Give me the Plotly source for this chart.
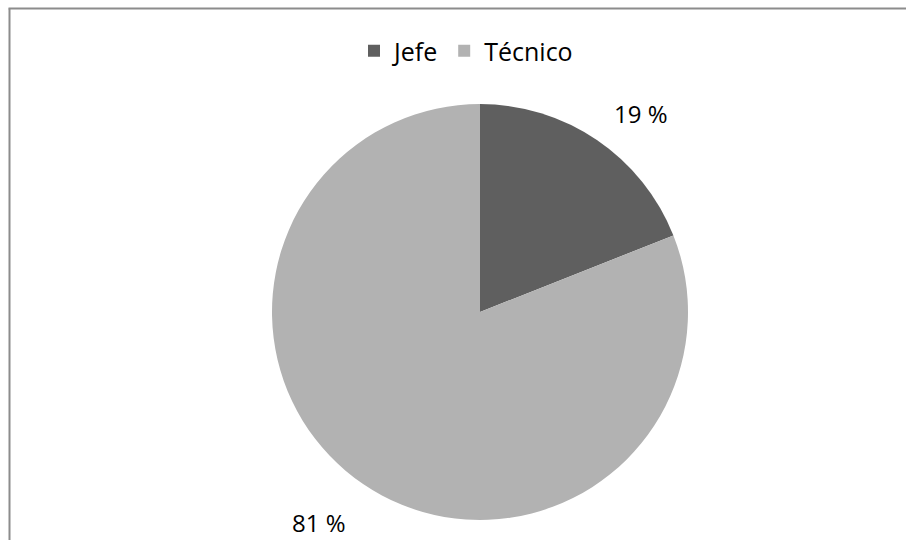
import math
import plotly.graph_objects as go

categories = ["Jefe", "Técnico"]
values = [19, 81]
colors = ["#5f5f5f", "#b2b2b2"]

W, H = 906, 540
CX, CY, R = 480, 312, 208
FONT = "Open Sans"
FS = 25

fig = go.Figure(go.Pie(
    labels=categories,
    values=values,
    sort=False,
    direction="clockwise",
    rotation=0,
    marker=dict(colors=colors, line=dict(width=0)),
    textinfo="none",
    hoverinfo="label+percent",
    domain=dict(x=[(CX - R) / W, (CX + R) / W], y=[1 - (CY + R) / H, 1 - (CY - R) / H]),
))

# data labels outside, placed along each slice's mid-angle
total = sum(values)
cum = 0
annotations = []
for v in values:
    mid = (cum + v / 2) / total * 2 * math.pi
    cum += v
    s, c = math.sin(mid), math.cos(mid)
    d = 1.13 * R
    px = CX + s * d
    py = CY - c * d
    annotations.append(dict(
        x=px / W, y=1 - py / H, xref="paper", yref="paper",
        text=f"{round(v / total * 100)} %", showarrow=False,
        xanchor="left" if s > 0 else "right",
        yanchor="middle",
        yshift=(10 if c > 0 else -10) - 6,
        font=dict(family=FONT, size=FS - 1, color="#000000"),
    ))

fig.update_layout(
    width=W, height=H,
    margin=dict(l=0, r=0, t=0, b=0),
    paper_bgcolor="#ffffff",
    plot_bgcolor="#ffffff",
    font=dict(family=FONT, size=FS, color="#000000"),
    showlegend=True,
    legend=dict(
        orientation="h",
        x=466 / W, xanchor="center",
        y=1 - 51 / H, yanchor="middle",
        font=dict(family=FONT, size=FS, color="#000000"),
        itemclick=False, itemdoubleclick=False,
    ),
    annotations=annotations,
    shapes=[
        dict(type="line", xref="paper", yref="paper",
             x0=8.5 / W, x1=1.0, y0=1 - 8.5 / H, y1=1 - 8.5 / H,
             line=dict(color="#8c8c8c", width=2)),
        dict(type="line", xref="paper", yref="paper",
             x0=9.5 / W, x1=9.5 / W, y0=0, y1=1 - 8.5 / H,
             line=dict(color="#8c8c8c", width=2)),
    ],
)

fig.write_html(
    "out.html",
    config={"displayModeBar": False},
    post_script="document.body.style.margin='0';document.body.style.overflow='hidden';",
)
